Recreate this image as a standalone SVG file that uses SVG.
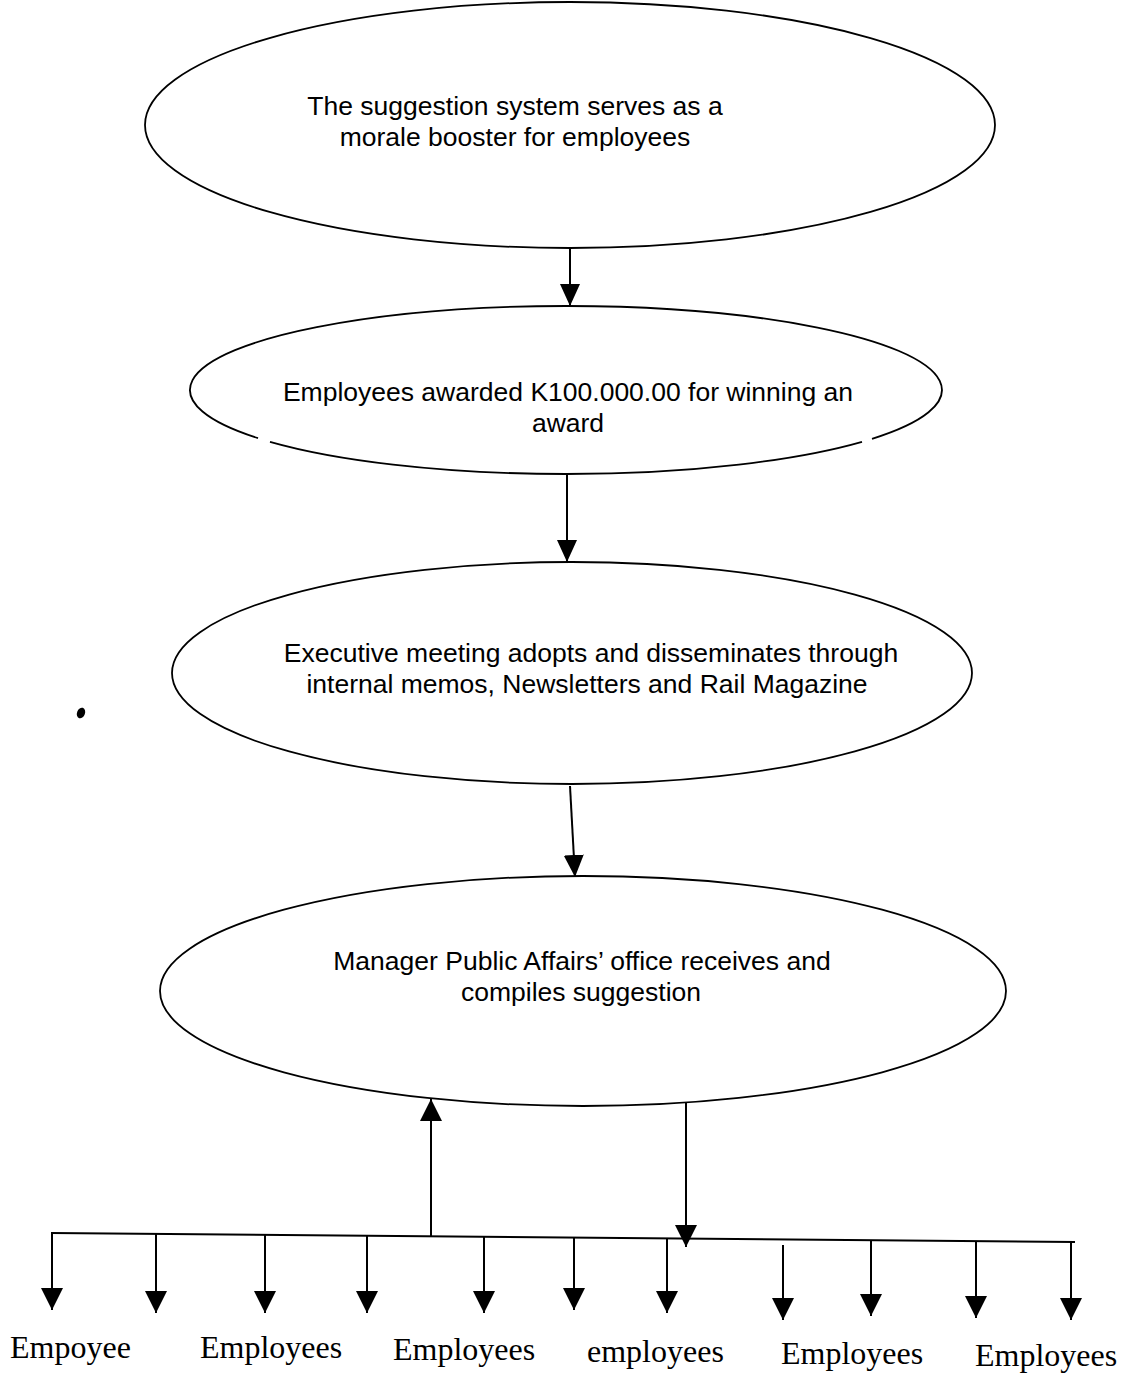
<svg xmlns="http://www.w3.org/2000/svg" width="1132" height="1373" viewBox="0 0 1132 1373">
<defs>
<style>
.node{fill:none;stroke:#000;stroke-width:1.8}
.lbl{font-family:"Liberation Sans",Arial,sans-serif;font-size:26.5px;fill:#000;text-anchor:middle}
.emp{font-family:"Liberation Serif","Times New Roman",serif;font-size:32px;fill:#000}
.con{stroke:#000;stroke-width:2;fill:none}
</style>
<marker id="ah" viewBox="0 0 22 22" markerUnits="userSpaceOnUse" markerWidth="22" markerHeight="22" refX="22" refY="11" orient="auto">
<path d="M0,0 L22,11 L0,22 Z" fill="#000"/>
</marker>
<marker id="ahs" viewBox="0 0 22 20" markerUnits="userSpaceOnUse" markerWidth="22" markerHeight="20" refX="22" refY="10" orient="auto">
<path d="M0,0 L22,10 L0,20 Z" fill="#000"/>
</marker>
</defs>
<rect width="1132" height="1373" fill="#fff"/>
<g id="n1">
<ellipse class="node" cx="570" cy="125" rx="425" ry="123"/>
<text class="lbl" x="515" y="115">The suggestion system serves as a</text>
<text class="lbl" x="515" y="146">morale booster for employees</text>
</g>
<g id="n2">
<path class="node" d="M270,441.8 A376,84 0 0 0 862,441.8 M872,438.8 A376,84 0 1 0 258,438.2"/>
<text class="lbl" x="568" y="401">Employees awarded K100.000.00 for winning an</text>
<text class="lbl" x="568" y="432">award</text>
</g>
<g id="n3">
<ellipse class="node" cx="572" cy="673" rx="400" ry="111"/>
<text class="lbl" x="591" y="662">Executive meeting adopts and disseminates through</text>
<text class="lbl" x="587" y="693">internal memos, Newsletters and Rail Magazine</text>
</g>
<g id="n4">
<ellipse class="node" cx="583" cy="991" rx="423" ry="115"/>
<text class="lbl" x="582" y="970">Manager Public Affairs’ office receives and</text>
<text class="lbl" x="581" y="1001">compiles suggestion</text>
</g>
<g id="labels">
<text class="emp" x="10" y="1358">Empoyee</text>
<text class="emp" x="200" y="1358">Employees</text>
<text class="emp" x="393" y="1360">Employees</text>
<text class="emp" x="587" y="1362">employees</text>
<text class="emp" x="781" y="1364">Employees</text>
<text class="emp" x="975" y="1366">Employees</text>
</g>
<g id="connectors">
<line class="con" x1="570" y1="248" x2="570" y2="306" marker-end="url(#ahs)" stroke-width="1.6"/>
<line class="con" x1="567" y1="474" x2="567" y2="562" marker-end="url(#ahs)" stroke-width="1.6"/>
<line class="con" x1="570" y1="786" x2="575" y2="877" marker-end="url(#ahs)" stroke-width="1.6"/>
<line class="con" x1="431" y1="1237" x2="431" y2="1099" marker-end="url(#ah)"/>
<line class="con" x1="686" y1="1102" x2="686" y2="1247" marker-end="url(#ah)"/>
<line class="con" x1="51" y1="1233" x2="1075" y2="1242"/>
<line class="con" x1="52" y1="1233" x2="52" y2="1310" marker-end="url(#ah)"/>
<line class="con" x1="156" y1="1234" x2="156" y2="1313" marker-end="url(#ah)"/>
<line class="con" x1="265" y1="1235" x2="265" y2="1313" marker-end="url(#ah)"/>
<line class="con" x1="367" y1="1236" x2="367" y2="1313" marker-end="url(#ah)"/>
<line class="con" x1="484" y1="1237" x2="484" y2="1313" marker-end="url(#ah)"/>
<line class="con" x1="574" y1="1238" x2="574" y2="1310" marker-end="url(#ah)"/>
<line class="con" x1="667" y1="1238" x2="667" y2="1313" marker-end="url(#ah)"/>
<line class="con" x1="783" y1="1245" x2="783" y2="1320" marker-end="url(#ah)"/>
<line class="con" x1="871" y1="1240" x2="871" y2="1316" marker-end="url(#ah)"/>
<line class="con" x1="976" y1="1241" x2="976" y2="1318" marker-end="url(#ah)"/>
<line class="con" x1="1071" y1="1242" x2="1071" y2="1320" marker-end="url(#ah)"/>
</g>
<ellipse cx="81" cy="713" rx="4" ry="5.5" transform="rotate(20 81 713)" fill="#000"/>
</svg>
